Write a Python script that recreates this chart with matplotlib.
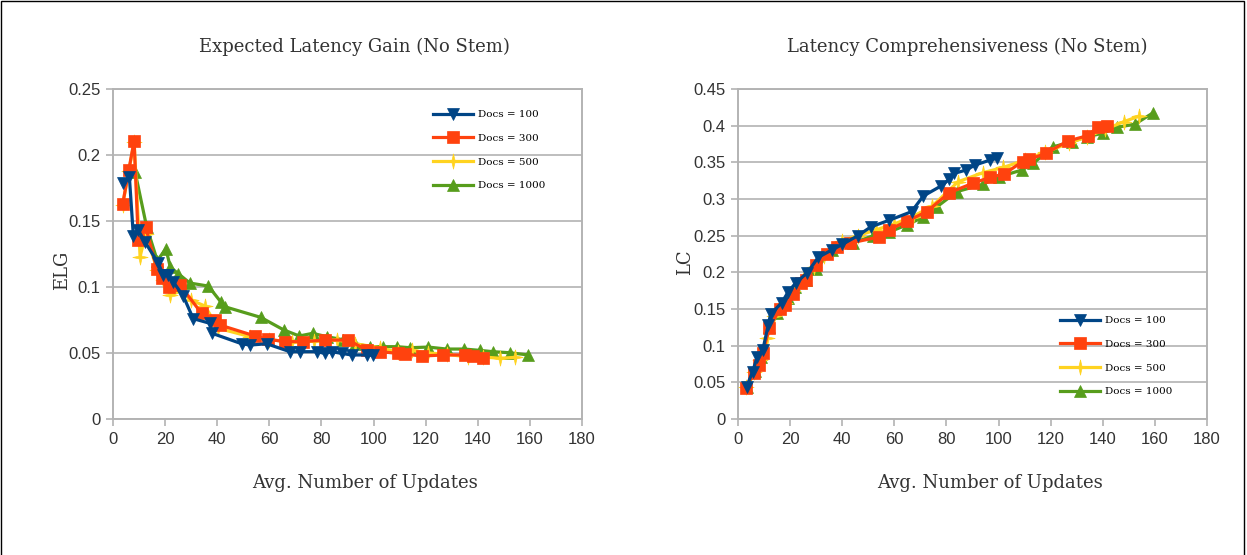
import numpy as np
import matplotlib
matplotlib.use("Agg")
import matplotlib.pyplot as plt
from matplotlib.patches import Rectangle

# Expected latency gain (left panel)
elg_x_100 = [4, 6.3, 7.8, 9.7, 12.3, 17.4, 19.3, 21.2, 23.1, 27, 30.8, 37.2, 37.9,
             49.4, 52.6, 59, 67.9, 71.8, 78.2, 81.3, 83.9, 87.8, 91.6, 97.3, 99.9]
elg_y_100 = [0.179, 0.183, 0.139, 0.143, 0.134, 0.118, 0.109, 0.109, 0.104, 0.093, 0.076,
             0.0725, 0.065, 0.057, 0.056, 0.057, 0.051, 0.051, 0.051, 0.0497, 0.051,
             0.0497, 0.0485, 0.0485, 0.0485]

elg_x_300 = [3.7, 6.1, 8.1, 9.7, 12.5, 16.8, 18.7, 21.6, 25.7, 34, 39.1, 41, 54.5, 59.4,
             66, 72.8, 81.3, 90.3, 97.3, 102.5, 109.5, 112, 118.6, 126.8, 135, 138.3, 142.1]
elg_y_300 = [0.1626, 0.189, 0.2106, 0.1356, 0.1457, 0.114, 0.1066, 0.0997, 0.1015, 0.080,
             0.075, 0.0712, 0.0629, 0.0604, 0.0586, 0.0586, 0.0598, 0.0598, 0.0523, 0.051,
             0.0497, 0.0492, 0.0477, 0.0485, 0.0485, 0.0477, 0.0465]

elg_x_500 = [3.7, 6.1, 8.1, 10.4, 12.5, 17, 19, 22, 26, 30, 35.3, 40.4, 52.6, 60, 68.6,
             77, 85.8, 93, 102.5, 109.5, 114.6, 121, 128, 136.3, 142, 148.5, 154.3]
elg_y_500 = [0.162, 0.188, 0.21, 0.123, 0.14, 0.113, 0.105, 0.094, 0.097, 0.09, 0.0856,
             0.0687, 0.0624, 0.06, 0.0586, 0.059, 0.06, 0.057, 0.054, 0.0505, 0.052,
             0.05, 0.049, 0.047, 0.047, 0.046, 0.0467]

elg_x_1000 = [8.5, 12.9, 17, 20.3, 22, 25.1, 29.5, 36.6, 41.3, 43, 56.7, 65.6, 71.5, 76.6,
              82, 88.4, 93, 98.6, 103.7, 108.9, 114, 121, 128, 134.7, 140.8, 145.7, 152.3,
              159.4]
elg_y_1000 = [0.187, 0.1457, 0.12, 0.129, 0.115, 0.110, 0.103, 0.1007, 0.0889, 0.085,
              0.077, 0.0674, 0.0629, 0.0649, 0.0624, 0.06, 0.057, 0.0548, 0.0548, 0.0548,
              0.054, 0.0545, 0.053, 0.053, 0.052, 0.051, 0.0502, 0.0485]

# Latency comprehensiveness (right panel)
lc_x_100 = [3.3, 5.6, 7.4, 9.5, 11.6, 12.5, 16.8, 19.3, 22.3, 26.6, 30.8, 36, 40, 46,
            51, 58, 66.6, 71.1, 77.9, 81.1, 83, 87.6, 91, 96.7, 99.5]
lc_y_100 = [0.044, 0.0645, 0.085, 0.094, 0.128, 0.143, 0.1586, 0.1736, 0.186, 0.1995,
            0.2205, 0.2305, 0.238, 0.25, 0.262, 0.271, 0.2827, 0.304, 0.3177, 0.3268,
            0.335, 0.3395, 0.3464, 0.353, 0.3555]

lc_x_300 = [3, 6, 8, 9.5, 12, 16, 18, 21, 24, 26, 30, 34, 38, 43, 54, 58, 65, 72.4, 81.1,
            90.1, 96.7, 102.1, 109.2, 111.8, 118.2, 126.5, 134.2, 138, 141.5]
lc_y_300 = [0.042, 0.063, 0.074, 0.09, 0.124, 0.15, 0.155, 0.17, 0.185, 0.19, 0.21,
            0.225, 0.235, 0.24, 0.248, 0.258, 0.27, 0.2827, 0.3086, 0.3214, 0.3295, 0.334,
            0.351, 0.354, 0.3623, 0.379, 0.3864, 0.3977, 0.3995]

lc_x_500 = [3.2, 6, 8.5, 11, 14, 18, 21, 25, 29, 33, 40, 46, 53, 60, 67, 74.4, 84.5,
            94.1, 101.8, 110, 118, 127, 134, 141, 148.1, 154]
lc_y_500 = [0.043, 0.064, 0.08, 0.11, 0.14, 0.158, 0.175, 0.19, 0.207, 0.222, 0.243,
            0.25, 0.258, 0.266, 0.276, 0.29, 0.3236, 0.336, 0.343, 0.353, 0.364, 0.376,
            0.385, 0.395, 0.4055, 0.413]

lc_x_1000 = [3.5, 6.5, 9, 12, 15, 19, 22, 26, 30, 36, 44, 52, 58, 64.7, 71, 76.4, 84,
             93.9, 100, 108.9, 113.3, 120.8, 128, 134, 139.9, 145.3, 152.3, 159.4]
lc_y_1000 = [0.043, 0.066, 0.085, 0.125, 0.145, 0.165, 0.18, 0.19, 0.205, 0.23, 0.24,
             0.25, 0.255, 0.2645, 0.275, 0.2895, 0.31, 0.32, 0.33, 0.3395, 0.3486, 0.371,
             0.378, 0.385, 0.3895, 0.3977, 0.402, 0.4177]

labels = ["Docs = 100", "Docs = 300", "Docs = 500", "Docs = 1000"]
colors = ["#004586", "#ff420e", "#ffd320", "#579d1c"]
star = [(0, 1), (0.18, 0.18), (1, 0), (0.18, -0.18), (0, -1), (-0.18, -0.18),
        (-1, 0), (-0.18, 0.18), (0, 1)]
markers = ["v", "s", star, "^"]
msizes = [9, 8.5, 11, 8.5]
zorders = [6, 5, 4, 3]

grey = "#b3b3b3"
serif = "DejaVu Serif"

W, H = 1247, 555
fig = plt.figure(figsize=(W / 100, H / 100), dpi=100)


def px_box(x0, y0, x1, y1):
    return [x0 / W, 1 - y1 / H, (x1 - x0) / W, (y1 - y0) / H]


def draw_panel(ax, xs, ys, ymax, ystep):
    for i in range(4):
        ax.plot(xs[i], ys[i], color=colors[i], marker=markers[i], ms=msizes[i],
                mec=colors[i], mew=0.5, lw=2.3, label=labels[i], zorder=zorders[i],
                clip_on=False)
    ax.set_xlim(0, 180)
    ax.set_ylim(0, ymax)
    ax.set_xticks(np.arange(0, 181, 20))
    ax.set_yticks(np.arange(0, ymax + 1e-9, ystep))
    ax.set_yticklabels(["%g" % round(v, 2) for v in np.arange(0, ymax + 1e-9, ystep)])
    ax.yaxis.grid(True, color=grey, lw=1.2)
    ax.set_axisbelow(True)
    for s in ax.spines.values():
        s.set_color(grey)
        s.set_linewidth(1.4)
    ax.tick_params(direction="out", length=5, width=1.2, color=grey, labelcolor="#333333",
                   labelsize=12, pad=4)
    for t in ax.get_xticklabels() + ax.get_yticklabels():
        t.set_family("Liberation Sans")


ax1 = fig.add_axes(px_box(113, 89, 582, 419))
draw_panel(ax1, [elg_x_100, elg_x_300, elg_x_500, elg_x_1000],
           [elg_y_100, elg_y_300, elg_y_500, elg_y_1000], 0.25, 0.05)
ax2 = fig.add_axes(px_box(738, 89, 1207, 419))
draw_panel(ax2, [lc_x_100, lc_x_300, lc_x_500, lc_x_1000],
           [lc_y_100, lc_y_300, lc_y_500, lc_y_1000], 0.45, 0.05)

leg_kw = dict(loc="upper left", bbox_transform=fig.transFigure, frameon=False,
              prop={"family": serif, "size": 7.5}, handlelength=3.8,
              handletextpad=0.5, labelspacing=1.38, borderpad=0, borderaxespad=0)
ax1.legend(bbox_to_anchor=(433 / W, 1 - 110 / H), **leg_kw)
ax2.legend(bbox_to_anchor=(1060 / W, 1 - 316 / H), **leg_kw)

# titles and axis labels
fig.text(354 / W, 1 - 47 / H, "Expected Latency Gain (No Stem)", family=serif,
         size=13, color="#333333", ha="center", va="center")
fig.text(967 / W, 1 - 47 / H, "Latency Comprehensiveness (No Stem)", family=serif,
         size=13, color="#333333", ha="center", va="center")
fig.text(365 / W, 1 - 483 / H, "Avg. Number of Updates", family=serif,
         size=13, color="#333333", ha="center", va="center")
fig.text(990 / W, 1 - 483 / H, "Avg. Number of Updates", family=serif,
         size=13, color="#333333", ha="center", va="center")
fig.text(62 / W, 1 - 270 / H, "ELG", family=serif, size=13, color="#333333",
         ha="center", va="center", rotation=90)
fig.text(685 / W, 1 - 262 / H, "LC", family=serif, size=13, color="#333333",
         ha="center", va="center", rotation=90)

# thin frame around the whole figure
fig.patches.append(Rectangle((0.5 / W, -0.01), 1 - 3.5 / W, 1.01 - 1.5 / H,
                             transform=fig.transFigure, fill=False, ec="black",
                             lw=1.0))

fig.savefig("out.png", dpi=100)
